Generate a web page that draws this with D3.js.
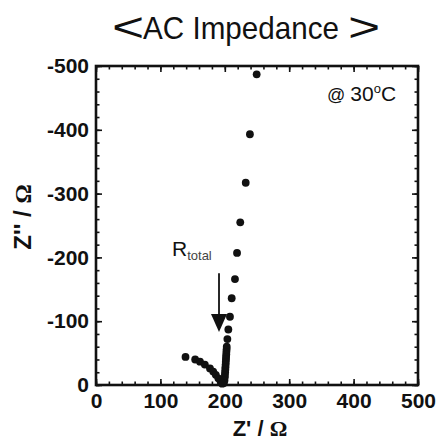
<!DOCTYPE html>
<html>
<head>
<meta charset="utf-8">
<script src="https://cdn.jsdelivr.net/npm/d3@7"></script>
<style>
  html, body { margin: 0; padding: 0; background: #fff; }
  svg { display: block; }
  .tick text { font-family: "Liberation Sans", Arial, sans-serif; font-weight: bold; font-size: 21px; fill: #111; }
</style>
</head>
<body>
<svg id="chart" width="436" height="441"></svg>
<script>
// Nyquist plot measured at 30 °C: real part Z' and imaginary part Z'' (ohm)
const zReal = [
  249.5, 239, 232.5, 224, 219, 215.8, 210.7, 208, 205.5, 204, 203,
  202.8, 202.5, 202.3, 202, 201.8, 201.5, 201.3, 201, 200.8, 200.5, 200.2, 200, 199.5, 198.5,
  139, 154, 161.5, 169, 177, 182, 186, 190, 193.5, 196
];
const zImag = [
  -487, -393, -317, -255, -207, -166, -136, -107, -87, -72, -60,
  -56, -52, -48, -44, -40, -36, -32, -28, -24, -20, -16, -12, -7, -3,
  -44, -40, -36.5, -32, -26, -21, -16, -10.5, -5, -2
];

const xMajor = [0, 100, 200, 300, 400, 500];
const yMajor = [0, -100, -200, -300, -400, -500];
const xMinor = d3.range(0, 501, 20);
const yMinor = d3.range(0, -501, -20);

// R_total marker: arrow along Z' = 191 from Z'' = -175 down to -83
const arrowZ = [191];
const arrowFrom = [-175];
const arrowTo = [-83];

const svg = d3.select("#chart");
const plotL = 96, plotR = 418, plotT = 66, plotB = 385;

const x = d3.scaleLinear().domain([0, 500]).range([plotL, plotR]);
const y = d3.scaleLinear().domain([0, -500]).range([plotB, plotT]);

// Title
const title = svg.append("g").attr("fill", "#111")
  .attr("font-family", "'Liberation Sans', Arial, sans-serif");
title.append("text")
  .attr("transform", "translate(112,41) scale(1.38,1)")
  .attr("font-size", 40).text("<");
title.append("text")
  .attr("x", 143).attr("y", 38.5)
  .attr("font-size", 32)
  .attr("textLength", 196).attr("lengthAdjust", "spacingAndGlyphs")
  .text("AC Impedance");
title.append("text")
  .attr("transform", "translate(348,41) scale(1.38,1)")
  .attr("font-size", 40).text(">");

// Axes with inward ticks on all four sides
function styleAxis(g) {
  g.select(".domain").remove();
  g.selectAll(".tick line").attr("stroke", "#111").attr("stroke-width", 1.6);
}

svg.append("g").attr("transform", `translate(0,${plotB})`)
  .call(d3.axisBottom(x).tickValues(xMinor).tickSize(-3.5).tickFormat(""))
  .call(styleAxis);
svg.append("g").attr("transform", `translate(0,${plotT})`)
  .call(d3.axisTop(x).tickValues(xMinor).tickSize(-3.5).tickFormat(""))
  .call(styleAxis);
svg.append("g").attr("transform", `translate(${plotL},0)`)
  .call(d3.axisLeft(y).tickValues(yMinor).tickSize(-3.5).tickFormat(""))
  .call(styleAxis);
svg.append("g").attr("transform", `translate(${plotR},0)`)
  .call(d3.axisRight(y).tickValues(yMinor).tickSize(-3.5).tickFormat(""))
  .call(styleAxis);

svg.append("g").attr("transform", `translate(0,${plotB})`)
  .call(d3.axisBottom(x).tickValues(xMajor).tickSize(-6).tickPadding(8).tickFormat(d3.format("d")))
  .call(styleAxis);
svg.append("g").attr("transform", `translate(0,${plotT})`)
  .call(d3.axisTop(x).tickValues(xMajor).tickSize(-6).tickFormat(""))
  .call(styleAxis);
svg.append("g").attr("transform", `translate(${plotL},0)`)
  .call(d3.axisLeft(y).tickValues(yMajor).tickSize(-6).tickPadding(7).tickFormat(d => d3.format("d")(d).replace("−", "-")))
  .call(styleAxis);
svg.append("g").attr("transform", `translate(${plotR},0)`)
  .call(d3.axisRight(y).tickValues(yMajor).tickSize(-6).tickFormat(""))
  .call(styleAxis);

// Frame
svg.append("rect")
  .attr("x", x(0)).attr("y", y(-500))
  .attr("width", x(500) - x(0)).attr("height", y(0) - y(-500))
  .attr("fill", "none").attr("stroke", "#111").attr("stroke-width", 2.6);

// Axis titles
const xl = svg.append("text")
  .attr("x", 260).attr("y", 436).attr("text-anchor", "middle")
  .attr("font-family", "'Liberation Sans', Arial, sans-serif")
  .attr("font-weight", "bold").attr("font-size", 22).attr("fill", "#111");
xl.append("tspan").text("Z' / ");
xl.append("tspan").attr("font-family", "'Liberation Serif', serif").text("Ω");

const yl = svg.append("text")
  .attr("transform", "translate(31,217) rotate(-90)").attr("text-anchor", "middle")
  .attr("font-family", "'Liberation Sans', Arial, sans-serif")
  .attr("font-weight", "bold").attr("font-size", 24).attr("fill", "#111");
yl.append("tspan").text("Z'' / ");
yl.append("tspan").attr("font-family", "'Liberation Serif', serif").text("Ω");

// Temperature note
const note = svg.append("text")
  .attr("x", 327).attr("y", 101)
  .attr("font-family", "'Liberation Sans', Arial, sans-serif")
  .attr("font-size", 21).attr("fill", "#111");
note.append("tspan").attr("font-size", 18).text("@ ");
note.append("tspan").text("30");
note.append("tspan").attr("font-size", 13).attr("dy", -8).text("o");
note.append("tspan").attr("dy", 8).text("C");

// R_total label and arrow
const rl = svg.append("text")
  .attr("x", 172).attr("y", 256)
  .attr("font-family", "'Liberation Sans', Arial, sans-serif")
  .attr("font-size", 21).attr("fill", "#111");
rl.append("tspan").text("R");
rl.append("tspan").attr("font-size", 13).attr("dy", 4).attr("fill", "#444").text("total");

arrowZ.forEach((z, i) => {
  const ax = x(z), y0 = y(arrowFrom[i]), y1 = y(arrowTo[i]);
  svg.append("line")
    .attr("x1", ax).attr("x2", ax).attr("y1", y0).attr("y2", y1 - 14)
    .attr("stroke", "#111").attr("stroke-width", 1.8);
  svg.append("path")
    .attr("d", `M${ax - 8},${y1 - 18} L${ax + 8},${y1 - 18} L${ax},${y1} Z`)
    .attr("fill", "#111");
});

// Data points
svg.append("g").selectAll("circle")
  .data(zReal.map((d, i) => [d, zImag[i]]))
  .join("circle")
  .attr("cx", d => x(d[0]))
  .attr("cy", d => y(d[1]))
  .attr("r", 3.9)
  .attr("fill", "#111");
</script>
</body>
</html>
